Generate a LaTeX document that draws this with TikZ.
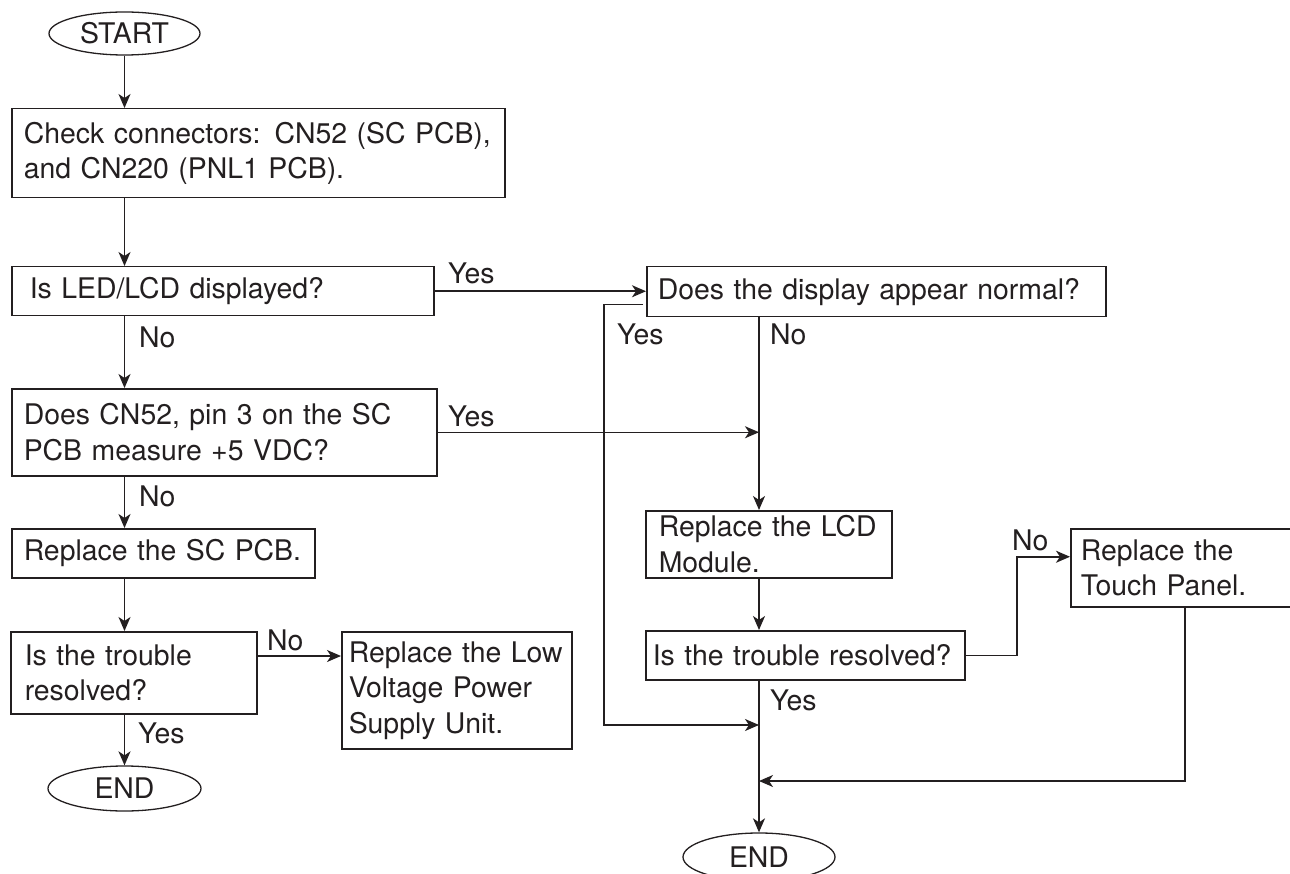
\documentclass[tikz,border=0pt]{standalone}
\usepackage{fontspec}
\setmainfont{TeX Gyre Heros}
\usetikzlibrary{shapes.geometric,arrows.meta,calc}
\definecolor{ink}{HTML}{231F20}
\begin{document}
\begin{tikzpicture}[x=1pt,y=-1pt,
  every node/.style={text=ink},
  font=\fontsize{28.4}{35.5}\selectfont,
  box/.style={draw=ink, line width=1.5pt, anchor=north west, align=left, inner ysep=0pt},
  oval/.style={draw=ink, line width=1.3pt, ellipse, inner sep=0pt},
  lbl/.style={anchor=west, inner sep=0pt},
  arr/.style={draw=ink, line width=1.5pt, -{Stealth[length=14pt,width=12pt,inset=4pt]}},
  ln/.style={draw=ink, line width=1.5pt}]
\useasboundingbox (0,0) rectangle (1290,874);
\clip (0,0) rectangle (1290,874);

% nodes
\node[oval, minimum width=151pt, minimum height=43pt] (start) at (124.5,33.5) {START};
\node[box, text width=469pt, minimum height=89pt, inner xsep=12pt] (b1) at (11,108)
  {\mbox{Check connectors: CN52 (SC PCB),}\\\mbox{and CN220 (PNL1 PCB).}};
\node[box, text width=386pt, minimum height=49pt, inner xsep=18pt] (b2) at (11,266)
  {\mbox{Is LED/LCD displayed?}};
\node[box, text width=401pt, minimum height=87pt, inner xsep=12pt] (b3) at (11,388)
  {\mbox{Does CN52, pin 3 on the SC}\\\mbox{PCB measure +5 VDC?}};
\node[box, text width=279pt, minimum height=49pt, inner xsep=12pt] (b4) at (11,528)
  {\mbox{Replace the SC PCB.}};
\node[box, text width=218pt, minimum height=82pt, inner xsep=14pt] (b5) at (10,631)
  {\mbox{Is the trouble}\\\mbox{resolved?}};
\node[box, text width=216pt, minimum height=117pt, inner xsep=7pt] (b6) at (341,631)
  {\mbox{Replace the Low}\\\mbox{Voltage Power}\\\mbox{Supply Unit.}};
\node[oval, minimum width=153pt, minimum height=45pt] (end1) at (124.5,788.5) {END};

\node[box, text width=437pt, minimum height=50pt, inner xsep=11pt] (b7) at (646,266)
  {\mbox{Does the display appear normal?}};
\node[box, text width=220pt, minimum height=67pt, inner xsep=13pt] (b8) at (645,510)
  {\mbox{Replace the LCD}\\\mbox{Module.}};
\node[box, text width=305pt, minimum height=49pt, inner xsep=7pt] (b9) at (645,630)
  {\mbox{Is the trouble resolved?}};
\node[box, text width=220pt, minimum height=78pt, inner xsep=10pt] (b10) at (1070,528)
  {\mbox{Replace the}\\\mbox{Touch Panel.}};
\node[oval, minimum width=152pt, minimum height=48pt] (end2) at (759,857) {END};

% helper coordinates
\coordinate (colR) at (759,0);
\coordinate (yx) at (604,0);
\coordinate (nx) at (1017,0);
\coordinate (tx) at (1185,0);
\coordinate (m1) at (759,725);
\coordinate (m2) at (759,781);
\coordinate (b5out) at ($(b5.north east)+(0,25)$);
\coordinate (b7out) at ($(b7.west)+(-3,13)$);
\coordinate (b10in) at ($(b10.west)+(0,-11)$);

% left column
\draw[arr] (start.south) -- (start.south |- b1.north);
\draw[arr] (b1.south -| start) -- (b2.north -| start);
\draw[arr] (b2.south -| start) -- (b3.north -| start);
\draw[arr] (b3.south -| start) -- (b4.north -| start);
\draw[arr] (b4.south -| start) -- (b5.north -| start);
\draw[arr] (b5.south -| start) -- (end1.north);
\draw[arr] (b5out) -- (b5out -| b6.west);

% to right column
\draw[arr] (b2.east) -- (b2.east -| b7.west);
\draw[arr] (b3.east) -- (b3.east -| colR);
\draw[arr] (b7.south -| colR) -- (b8.north -| colR);
\draw[arr] (b7out) -| (yx |- m1) -- (m1);
\draw[arr] (b8.south -| colR) -- (b9.north -| colR);
\draw[arr] (b9.south -| colR) -- (end2.north);
\draw[arr] (b9.east) -- (b9.east -| nx) |- (b10in);
\draw[arr] (b10.south -| tx) |- (m2);

% labels
\node[lbl] (lyes1) at (448,273) {Yes};
\node[lbl] (lno1) at (139,337) {No};
\node[lbl] (lyes2) at (448,416) {Yes};
\node[lbl] (lno2) at (139,496) {No};
\node[lbl] (lno3) at (267,640) {No};
\node[lbl] (lyes3) at (138,733) {Yes};
\node[lbl] (lyes4) at (617,334) {Yes};
\node[lbl] (lno4) at (770,334) {No};
\node[lbl] (lyes5) at (770,700) {Yes};
\node[lbl] (lno5) at (1012,540) {No};
\end{tikzpicture}
\end{document}
